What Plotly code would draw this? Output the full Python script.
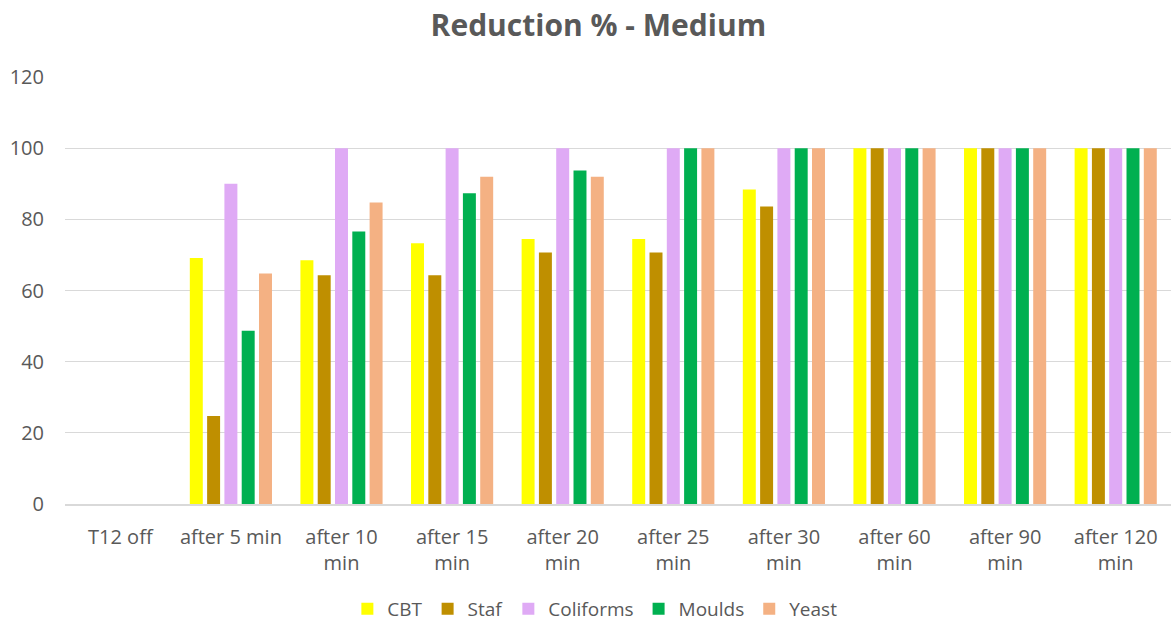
import plotly.graph_objects as go

categories = ["T12 off", "after 5 min", "after 10<br>min", "after 15<br>min", "after 20<br>min",
              "after 25<br>min", "after 30<br>min", "after 60<br>min", "after 90<br>min", "after 120<br>min"]

cbt = [0, 69.1, 68.5, 73.3, 74.5, 74.5, 88.4, 100, 100, 100]
staf = [0, 24.7, 64.3, 64.3, 70.7, 70.7, 83.6, 100, 100, 100]
coliforms = [0, 90.0, 100, 100, 100, 100, 100, 100, 100, 100]
moulds = [0, 48.7, 76.6, 87.3, 93.7, 100, 100, 100, 100, 100]
yeast = [0, 64.8, 84.7, 92.0, 92.0, 100, 100, 100, 100, 100]

series = [
    ("CBT", cbt, "#FFFF00"),
    ("Staf", staf, "#BF8F00"),
    ("Coliforms", coliforms, "#DFAAF5"),
    ("Moulds", moulds, "#00B050"),
    ("Yeast", yeast, "#F4B183"),
]

FONT = "Open Sans"
TXT = "#595959"

fig = go.Figure()
for name, vals, col in series:
    fig.add_trace(go.Bar(x=categories, y=vals, name=name, marker_color=col,
                         marker_line_width=0))

fig.update_layout(
    width=1171, height=622,
    paper_bgcolor="white", plot_bgcolor="white",
    barmode="group", bargap=0.218, bargroupgap=0.25,
    margin=dict(l=65, r=0, t=77, b=118),
    font=dict(family=FONT, color=TXT, size=20),
    title=dict(text="<b>Reduction % - Medium</b>", x=0.511, xanchor="center",
               y=1 - 25 / 622, yanchor="middle", yref="container",
               font=dict(family=FONT, size=30, color=TXT)),
    legend=dict(orientation="h", x=0.508, xanchor="center", xref="container",
                y=1 - 609 / 622, yanchor="middle", yref="container",
                font=dict(family=FONT, size=19, color=TXT),
                itemwidth=30, tracegroupgap=0),
    showlegend=True,
)
fig.update_xaxes(showgrid=False, showline=True, linecolor="#D9D9D9", linewidth=1.5,
                 ticks="", ticklabelstandoff=14, tickfont=dict(size=20, color=TXT))
fig.update_yaxes(range=[0, 120], dtick=20, showgrid=True, gridcolor="#D9D9D9", gridwidth=1,
                 zeroline=False, showline=False, ticks="", ticklabelstandoff=20,
                 tickfont=dict(size=20, color=TXT))

fig.write_html("out.html", config={"displayModeBar": False},
               post_script="document.body.style.margin='0';document.body.style.overflow='hidden';")
